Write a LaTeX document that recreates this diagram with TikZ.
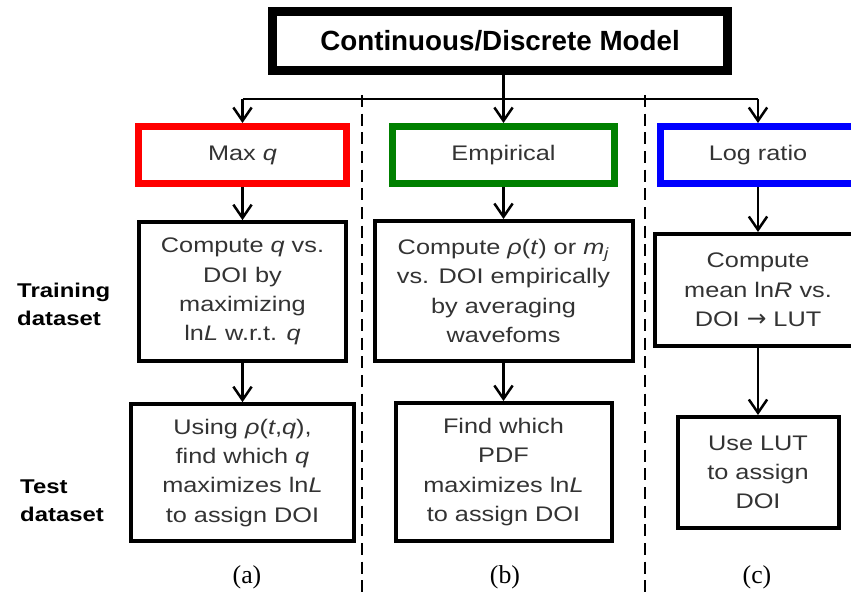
\documentclass[tikz,border=0pt]{standalone}
\usepackage{fontspec}
\setmainfont{Liberation Sans}
\newfontfamily\boxfont[FakeStretch=1.2]{Liberation Sans}
\newfontfamily\capfont{Liberation Serif}
\newfontfamily\arrowfont{DejaVu Sans}
\usepackage{xcolor}
\usetikzlibrary{shapes,arrows.meta,positioning}
\definecolor{redbox}{RGB}{255,0,0}
\definecolor{greenbox}{RGB}{0,128,0}
\definecolor{bluebox}{RGB}{0,0,255}
\tikzstyle{model} = [rectangle, draw, line width=0.27cm, minimum width=13.65cm, minimum height=1.77cm, font=\fontsize{23.7}{28}\selectfont\bfseries]
\tikzstyle{method} = [rectangle, draw, line width=0.21cm, minimum height=1.71cm, text=black!80, font=\boxfont\fontsize{18}{25}\selectfont]
\tikzstyle{block} = [rectangle, draw, line width=0.12cm, align=center, inner sep=0pt, text=black!80, font=\boxfont\fontsize{18}{25}\selectfont]
\tikzstyle{line} = [draw, line width=0.075cm, -{Straight Barb[length=0.4cm,width=0.55cm]}]
\tikzstyle{divider} = [draw, line width=0.07cm, dash pattern=on 0.36cm off 0.2cm]
\tikzstyle{rowlabel} = [align=left, anchor=west, inner sep=0pt, font=\boxfont\fontsize{17}{24}\selectfont\bfseries]
\tikzstyle{caption} = [font=\capfont\fontsize{22}{24}\selectfont]

\begin{document}
\begin{tikzpicture}[x=0.03cm, y=-0.03cm]
    \useasboundingbox (0,0) rectangle (851,592);
    \clip (0,0) rectangle (851,592);

    \node [model] (model) at (500,41) {Continuous/Discrete Model};
    \node [method, draw=redbox, minimum width=6.24cm] (maxq) at (242.5,155) {Max \textit{q}};
    \node [method, draw=greenbox, minimum width=6.66cm] (empir) at (503.5,155) {Empirical};
    \node [method, draw=bluebox, minimum width=5.85cm] (logratio) at (758,155) {Log ratio};

    \node [block, below of=maxq, node distance=4.1cm, minimum width=6.18cm, minimum height=4.17cm] (trainq)
        {Compute \textit{q} vs.\\ DOI by\\ maximizing\\ ln\textit{L} w.r.t. \textit{q}};
    \node [block, below of=empir, node distance=4.08cm, minimum width=7.74cm, minimum height=4.2cm] (trainemp)
        {Compute \textit{ρ}(\textit{t}) or \textit{m}\textsubscript{\textit{j}}\\ vs. DOI empirically\\ by averaging\\ wavefoms};
    \node [block, below of=logratio, node distance=4.05cm, minimum width=6.18cm, minimum height=3.36cm] (trainlog)
        {Compute\\ mean ln\textit{R} vs.\\ DOI {\arrowfont\fontsize{20}{25}\selectfont →} LUT};

    \node [block, below of=trainq, node distance=5.43cm, minimum width=6.66cm, minimum height=4.11cm] (testq)
        {Using \textit{ρ}(\textit{t},\textit{q}),\\ find which \textit{q}\\ maximizes ln\textit{L}\\ to assign DOI};
    \node [block, below of=trainemp, node distance=5.43cm, minimum width=6.48cm, minimum height=4.14cm] (testemp)
        {Find which\\ PDF\\ maximizes ln\textit{L}\\ to assign DOI};
    \node [block, below of=trainlog, node distance=5.475cm, minimum width=4.83cm, minimum height=3.33cm] (testlog)
        {Use LUT\\ to assign\\ DOI};

    \node [rowlabel] (train) at (17,304) {Training\\dataset};
    \node [rowlabel] (test) at (20,501) {Test\\dataset};

    \node [caption] (capa) at (247,577) {(a)};
    \node [caption] (capb) at (505,577) {(b)};
    \node [caption] (capc) at (757,577) {(c)};

    % split from the model to the three methods
    \coordinate (split) at (503.5,99);
    \draw [line width=0.06cm] (split -| maxq) -- (split -| logratio);
    \path [line] (model.south -| empir) -- (empir);
    \path [line] (split -| maxq) -- (maxq);
    \path [line] (split -| logratio) -- (logratio);

    \path [line] (maxq) -- (trainq);
    \path [line] (empir) -- (trainemp);
    \path [line] (logratio) -- (trainlog);
    \path [line] (trainq) -- (testq);
    \path [line] (trainemp) -- (testemp);
    \path [line] (trainlog) -- (testlog);

    \path [divider] (362,95) -- (362,592);
    \path [divider] (645,95) -- (645,592);
\end{tikzpicture}
\end{document}
